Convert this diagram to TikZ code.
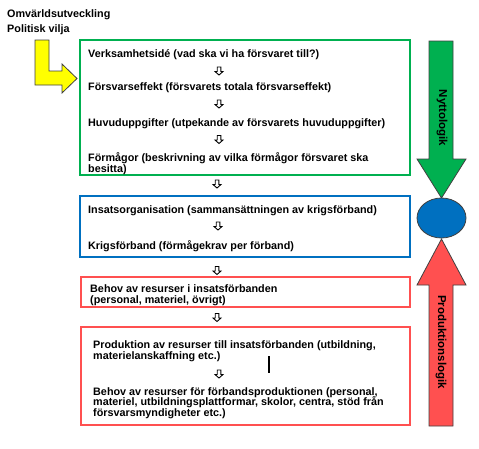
\documentclass[tikz,border=0pt]{standalone}
\usepackage{fontspec}
\setmainfont{Liberation Sans}
\usetikzlibrary{calc}

\definecolor{gron}{HTML}{00B050}
\definecolor{bla}{HTML}{0070C0}
\definecolor{rod}{HTML}{FF5050}
\definecolor{gul}{HTML}{FFFF00}

\newcommand{\txtfont}{\fontsize{10.8}{11}\selectfont\bfseries}

\tikzset{
  txt/.style={anchor=base west,inner sep=0pt,font=\txtfont},
  ruta/.style={line width=2.4pt},
  pil/.style={draw=black!75,line width=0.8pt},
  darr/.pic={\draw[fill=white,line width=0.9pt]
      (-1.8,-4)--(1.8,-4)--(1.8,0.5)--(4,0.5)--(0,4)--(-4,0.5)--(-1.8,0.5)--cycle;}
}

\begin{document}
\begin{tikzpicture}[x=1pt,y=-1pt]
  \useasboundingbox (0,0) rectangle (479,448);
  %omvarld
  \node[txt] (omv) at (7,17) {Omvärldsutveckling};
  \node[txt] (pol) at (7,32) {Politisk vilja};
  \draw[pil,fill=gul] (35,40)--(49,40)--(49,71)--(62,71)--(62,64)--(77,78.5)
      --(62,93)--(62,85)--(35,85)--cycle;
  %rutor
  \draw[ruta,gron] (80,40) rectangle (410,175);
  \draw[ruta,bla] (80,196) rectangle (410,257);
  \draw[ruta,rod] (81,277) rectangle (410,307);
  \draw[ruta,rod] (81,327) rectangle (410,425);
  %gron ruta
  \node[txt] (vid) at (88,57) {Verksamhetsidé (vad ska vi ha försvaret till?)};
  \pic at (219,71) {darr};
  \node[txt] (eff) at (88,90) {Försvarseffekt (försvarets totala försvarseffekt)};
  \pic at (219,104) {darr};
  \node[txt] (huv) at (88,126) {Huvuduppgifter (utpekande av försvarets huvuduppgifter)};
  \pic at (219,139.5) {darr};
  \node[txt] (for1) at (88,161) {Förmågor (beskrivning av vilka förmågor försvaret ska};
  \node[txt] (for2) at (88,172) {besitta)};
  \pic at (217,184) {darr};
  %bla ruta
  \node[txt] (ins) at (88,213) {Insatsorganisation (sammansättningen av krigsförband)};
  \pic at (218,226) {darr};
  \node[txt] (krig) at (88,249) {Krigsförband (förmågekrav per förband)};
  \pic at (217,270.5) {darr};
  %roda rutor
  \node[txt] (beh1) at (90,292) {Behov av resurser i insatsförbanden};
  \node[txt] (beh2) at (90,303) {(personal, materiel, övrigt)};
  \pic at (217,317.5) {darr};
  \node[txt] (pro1) at (93,348) {Produktion av resurser till insatsförbanden (utbildning,};
  \node[txt] (pro2) at (93,359) {materielanskaffning etc.)};
  \draw[line width=1.3pt] (269,356)--(269,373);
  \pic at (219,374) {darr};
  \node[txt] (bp1) at (93,395) {Behov av resurser för förbandsproduktionen (personal,};
  \node[txt] (bp2) at (93,405.5) {materiel, utbildningsplattformar, skolor, centra, stöd från};
  \node[txt] (bp3) at (93,416) {försvarsmyndigheter etc.)};
  %logik
  \draw[pil,fill=gron] (429,41)--(453,41)--(453,159)--(466,159)--(441.5,198)
      --(417,159)--(429,159)--cycle;
  \node[font=\fontsize{11.5}{12}\selectfont\bfseries,rotate=-90,inner sep=0pt]
      (nytta) at (442,118) {Nyttologik};
  \draw[pil,fill=bla] (441.5,218) ellipse (24.5 and 20);
  \draw[pil,fill=rod] (441.5,239)--(466,285)--(453,285)--(453,426)--(429,426)
      --(429,285)--(417,285)--cycle;
  \node[font=\fontsize{11.5}{12}\selectfont\bfseries,rotate=-90,inner sep=0pt]
      (prod) at (441,342) {Produktionslogik};
\end{tikzpicture}
\end{document}
